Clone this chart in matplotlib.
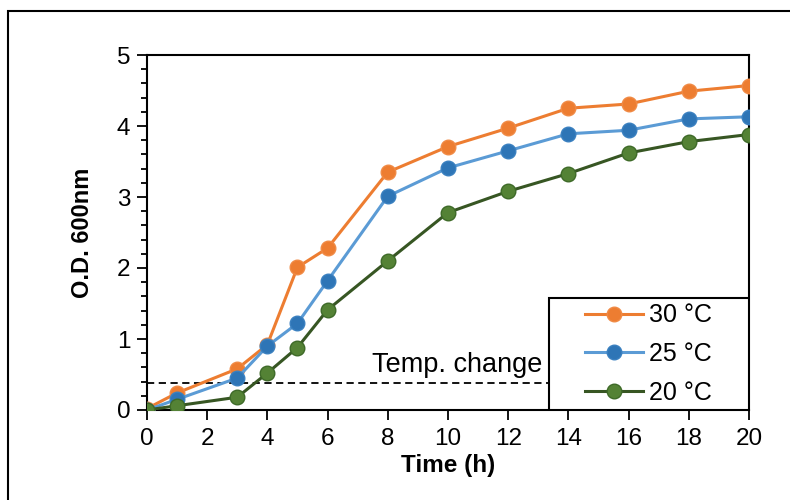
import numpy as np
import matplotlib
matplotlib.use("Agg")
import matplotlib.pyplot as plt
from matplotlib.ticker import MultipleLocator
from matplotlib.patches import Rectangle

plt.rcParams['font.family'] = ['Liberation Sans', 'DejaVu Sans']

time_h = [0, 1, 3, 4, 5, 6, 8, 10, 12, 14, 16, 18, 20]
od_30 = [0.02, 0.24, 0.58, 0.92, 2.01, 2.28, 3.35, 3.71, 3.97, 4.25, 4.31, 4.49, 4.57]
od_25 = [0.0, 0.15, 0.45, 0.90, 1.22, 1.82, 3.01, 3.41, 3.65, 3.89, 3.94, 4.10, 4.13]
od_20 = [0.0, 0.06, 0.18, 0.52, 0.88, 1.41, 2.10, 2.78, 3.08, 3.33, 3.62, 3.78, 3.88]
temp_change_od = 0.38
legend_left = 13.35  # legend box starts here (x units)

fig = plt.figure(figsize=(7.9, 5), dpi=100)
ax = fig.add_axes([0.186, 0.18, 0.762, 0.71])

ax.plot(time_h, od_30, color='#ED7D31', lw=2.2, marker='o', ms=10.5,
        mfc='#ED7D31', mec='#F08A45', label='30 °C', zorder=3)
ax.plot(time_h, od_25, color='#5B9BD5', lw=2.2, marker='o', ms=10.5,
        mfc='#2E75B6', mec='#3A80C0', label='25 °C', zorder=4)
ax.plot(time_h, od_20, color='#375623', lw=2.2, marker='o', ms=10.5,
        mfc='#548235', mec='#3E6A28', label='20 °C', zorder=5)

ax.plot([0, legend_left], [temp_change_od, temp_change_od], color='black',
        lw=1.3, ls=(0, (4, 2.5)), zorder=2)
ax.text(legend_left - 0.2, 0.53, 'Temp. change', fontsize=19.5,
        ha='right', va='baseline')

ax.set_xlim(0, 20)
ax.set_ylim(0, 5)
ax.set_xticks(range(0, 21, 2))
ax.yaxis.set_major_locator(MultipleLocator(1))
ax.yaxis.set_minor_locator(MultipleLocator(0.2))
ax.tick_params(axis='both', which='major', labelsize=17.5, direction='out',
               length=7, width=1.3)
ax.tick_params(axis='y', which='minor', direction='out', length=4, width=1.3)
ax.tick_params(axis='x', pad=6)
ax.tick_params(axis='y', pad=5)
for s in ax.spines.values():
    s.set_linewidth(1.5)

ax.set_xlabel('Time (h)', fontsize=17.5, fontweight='bold', labelpad=3)
ax.set_ylabel('O.D. 600nm', fontsize=17, fontweight='bold', labelpad=16)

# legend frame: wider horizontal padding than vertical
box_h = 112 / 355
frame = Rectangle((legend_left / 20, 0), 1 - legend_left / 20, box_h,
                  transform=ax.transAxes, fill=True, facecolor='white',
                  edgecolor='black', lw=1.5, zorder=6)
ax.add_patch(frame)
leg = ax.legend(loc='center', bbox_to_anchor=((1 + legend_left / 20) / 2, box_h / 2),
                fontsize=18, frameon=False, handlelength=2.3,
                handletextpad=0.25, borderpad=0.2, labelspacing=0.58)
leg.set_zorder(7)

# outer border of the figure
fig.patches.append(Rectangle((8 / 790, -0.1), 1.1, 1.1 - 11 / 500,
                             transform=fig.transFigure, fill=False,
                             edgecolor='black', lw=1.5))

fig.savefig('out.png', dpi=100)
